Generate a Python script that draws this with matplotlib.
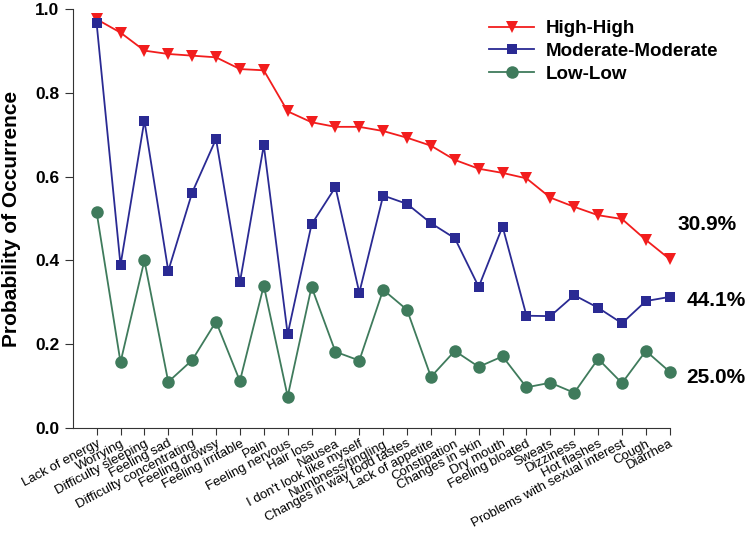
import matplotlib.pyplot as plt

plt.rcParams['font.family'] = ['Liberation Sans', 'DejaVu Sans']

sintomas = ["Lack of energy", "Worrying", "Difficulty sleeping", "Feeling sad",
            "Difficulty concentrating", "Feeling drowsy", "Feeling irritable", "Pain",
            "Feeling nervous", "Hair loss", "Nausea", "I don't look like myself",
            "Numbness/tingling", "Changes in way food tastes", "Lack of appetite",
            "Constipation", "Changes in skin", "Dry mouth", "Feeling bloated", "Sweats",
            "Dizziness", "Hot flashes", "Problems with sexual interest", "Cough", "Diarrhea"]

alto = [0.976, 0.944, 0.901, 0.893, 0.889, 0.885, 0.857, 0.854, 0.756, 0.730,
        0.719, 0.719, 0.709, 0.693, 0.674, 0.640, 0.619, 0.609, 0.596, 0.550,
        0.528, 0.508, 0.499, 0.449, 0.403]
moderado = [0.966, 0.389, 0.734, 0.375, 0.562, 0.690, 0.348, 0.675, 0.224, 0.486,
            0.575, 0.323, 0.555, 0.535, 0.489, 0.453, 0.337, 0.481, 0.268, 0.267,
            0.317, 0.287, 0.250, 0.303, 0.313]
bajo = [0.515, 0.157, 0.400, 0.110, 0.162, 0.254, 0.112, 0.340, 0.075, 0.337,
        0.182, 0.161, 0.330, 0.282, 0.122, 0.184, 0.146, 0.171, 0.097, 0.108,
        0.084, 0.165, 0.107, 0.184, 0.134]

porcentajes = ["30.9%", "44.1%", "25.0%"]

x = list(range(1, len(sintomas) + 1))

fig = plt.figure(figsize=(7.5, 5.39), dpi=100)
ax = fig.add_axes([0.097, 0.206, 0.796, 0.777])

ax.plot(x, alto, color="#F21D1D", marker="v", markersize=8, linewidth=1.3,
        markeredgewidth=0, label="High-High", clip_on=False)
ax.plot(x, moderado, color="#2A2A93", marker="s", markersize=7.5, linewidth=1.3,
        markeredgewidth=0, label="Moderate-Moderate", clip_on=False)
ax.plot(x, bajo, color="#3F7B5C", marker="o", markersize=9, linewidth=1.3,
        markeredgewidth=0, label="Low-Low", clip_on=False)

ax.set_xlim(0, 25)
ax.set_ylim(0, 1.0)
ax.set_yticks([0.0, 0.2, 0.4, 0.6, 0.8, 1.0])
ax.set_yticklabels(["0.0", "0.2", "0.4", "0.6", "0.8", "1.0"], fontsize=12.5, fontweight="bold")
ax.set_xticks(x)
ax.set_xticklabels(sintomas, rotation=28, ha="right", rotation_mode="anchor", fontsize=9.5)
ax.tick_params(axis="x", pad=2, length=5, color="#333333")
ax.tick_params(axis="y", length=6, color="#333333")
ax.set_ylabel("Probability of Occurrence", fontsize=15, fontweight="bold", labelpad=10)

ax.spines["top"].set_visible(False)
ax.spines["right"].set_visible(False)
ax.spines["left"].set_color("#333333")
ax.spines["bottom"].set_color("#333333")

ax.legend(loc="upper left", bbox_to_anchor=(0.63, 0.994), bbox_transform=fig.transFigure,
          frameon=False, prop={"size": 13.5, "weight": "bold"}, handlelength=2.4,
          labelspacing=0.3, handletextpad=0.6)

fig.text(0.903, 0.583, porcentajes[0], fontsize=15, fontweight="bold", va="center")
fig.text(0.916, 0.442, porcentajes[1], fontsize=15, fontweight="bold", va="center")
fig.text(0.915, 0.299, porcentajes[2], fontsize=15, fontweight="bold", va="center")

fig.savefig("out.png", dpi=100)
